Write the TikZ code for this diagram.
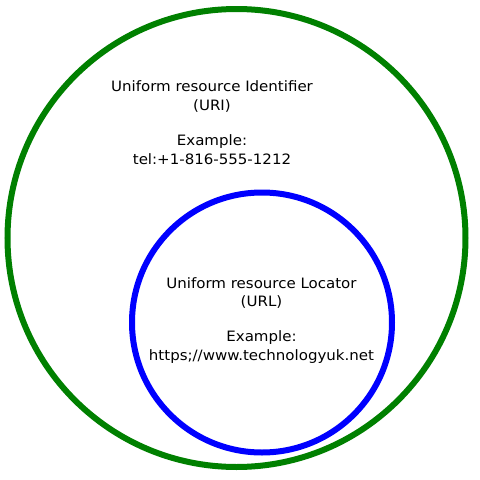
\documentclass[tikz,border=0pt]{standalone}
\usepackage{fontspec}
\setmainfont[FakeStretch=1.05]{DejaVu Sans}
\definecolor{urigreen}{HTML}{008000}
\definecolor{urlblue}{HTML}{0000FF}
\tikzset{
  ring/.style={line width=6pt},
  caption/.style={align=center, inner sep=0pt, anchor=north,
    font=\fontsize{14.3}{18.4}\selectfont}
}
\begin{document}
\begin{tikzpicture}[x=1pt,y=-1pt]
    \useasboundingbox (0,0) rectangle (480,480);

    \draw[ring, urigreen] (236.5,238) circle (229);
    \draw[ring, urlblue] (262,322.5) circle (130);

    \node[caption] (uri) at (212,80.8) {Uniform resource Identifier\\(URI)\\[17pt]Example:\\tel:+1-816-555-1212};
    \node[caption] (url) at (261.5,277.1) {Uniform resource Locator\\(URL)\\[17pt]Example:\\https;//www.technologyuk.net};
\end{tikzpicture}
\end{document}
